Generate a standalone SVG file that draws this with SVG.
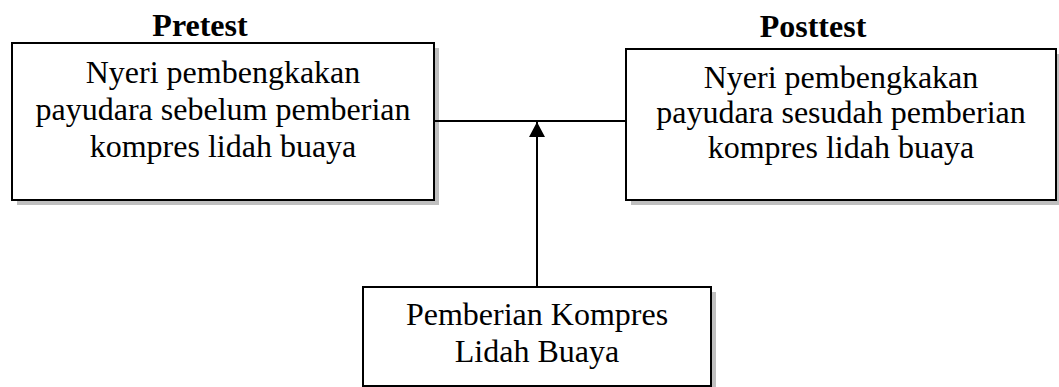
<svg xmlns="http://www.w3.org/2000/svg" width="1059" height="387" viewBox="0 0 1059 387">
<style>
.box{fill:#fff;stroke:#000;stroke-width:2}
.shadow{fill:#bfbfbf}
.t{font-family:"Liberation Serif","Times New Roman",serif;font-size:32px;fill:#000;text-anchor:middle}
.h{font-weight:bold}
.c{stroke:#000;stroke-width:2;fill:none}
</style>
<defs>
<marker id="arr" markerUnits="userSpaceOnUse" markerWidth="16" markerHeight="16" refX="15" refY="8" orient="auto">
<path d="M0,0 L15,8 L0,16 Z" fill="#000"/>
</marker>
</defs>
<g id="label-pretest"><text class="t h" x="200" y="36">Pretest</text></g>
<g id="label-posttest"><text class="t h" x="813" y="37">Posttest</text></g>
<g id="pretest">
<rect class="shadow" x="17" y="48" width="422" height="157"/>
<rect class="box" x="12" y="43" width="422" height="157"/>
<text class="t" x="223" y="83">Nyeri pembengkakan</text>
<text class="t" x="223" y="120">payudara sebelum pemberian</text>
<text class="t" x="223" y="157">kompres lidah buaya</text>
</g>
<g id="posttest">
<rect class="shadow" x="631" y="54" width="430" height="151"/>
<rect class="box" x="626" y="49" width="430" height="151"/>
<text class="t" x="841" y="88">Nyeri pembengkakan</text>
<text class="t" x="841" y="123">payudara sesudah pemberian</text>
<text class="t" x="841" y="158">kompres lidah buaya</text>
</g>
<g id="intervensi">
<rect class="shadow" x="368" y="292" width="348" height="99"/>
<rect class="box" x="363" y="287" width="348" height="99"/>
<text class="t" x="537" y="325">Pemberian Kompres</text>
<text class="t" x="537" y="362">Lidah Buaya</text>
</g>
<g id="connectors">
<line class="c" x1="434" y1="121" x2="626" y2="121"/>
<line class="c" x1="537" y1="287" x2="537" y2="122" marker-end="url(#arr)"/>
</g>
</svg>
